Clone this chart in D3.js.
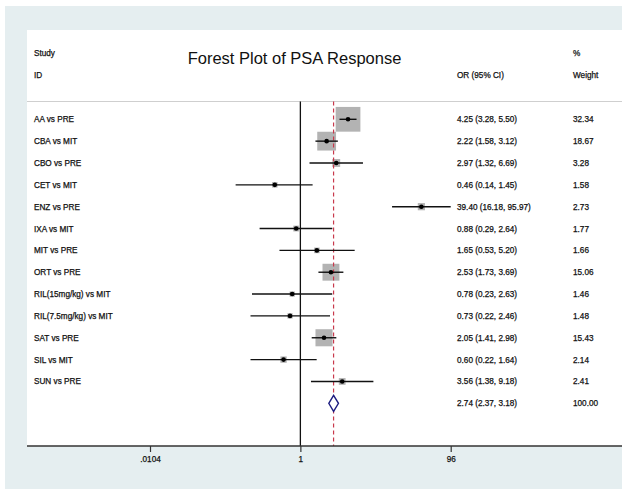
<!DOCTYPE html>
<html><head><meta charset="utf-8">
<script src="https://cdn.jsdelivr.net/npm/d3@7"></script>
<style>
html,body{margin:0;padding:0;background:#fff;}
svg{display:block;font-family:"Liberation Sans",Arial,Helvetica,sans-serif;}
</style></head>
<body>
<svg id="c" width="622" height="489"></svg>
<script>
const studies = ["AA vs PRE","CBA vs MIT","CBO vs PRE","CET vs MIT","ENZ vs PRE","IXA vs MIT","MIT vs PRE","ORT vs PRE","RIL(15mg/kg) vs MIT","RIL(7.5mg/kg) vs MIT","SAT vs PRE","SIL vs MIT","SUN vs PRE"];
const orValues = [4.25,2.22,2.97,0.46,39.40,0.88,1.65,2.53,0.78,0.73,2.05,0.60,3.56];
const lowerCI = [3.28,1.58,1.32,0.14,16.18,0.29,0.53,1.73,0.23,0.22,1.41,0.22,1.38];
const upperCI = [5.50,3.12,6.69,1.45,95.97,2.64,5.20,3.69,2.63,2.46,2.98,1.64,9.18];
const weights = ["32.34","18.67","3.28","1.58","2.73","1.77","1.66","15.06","1.46","1.48","15.43","2.14","2.41"];
const pooled = {or:2.74, lo:2.37, hi:3.18, weight:"100.00"};
const tickValues = [0.0104, 1, 96];
const tickLabels = [".0104", "1", "96"];

const svg = d3.select("#c");
svg.append("rect").attr("x",5).attr("y",6).attr("width",617).attr("height",483).attr("fill","#e5eef0");
svg.append("rect").attr("x",27).attr("y",30).attr("width",595).attr("height",416).attr("fill","#fff");

const x = d3.scaleLog().domain([0.0104, 96]).range([150, 450.7]);
const y = d3.scalePoint().domain(d3.range(studies.length + 1)).range([119.3, 403.3]);
const box = d3.scaleSqrt().domain([0, 100]).range([0, 43.5]);
const fmt = d3.format(".2f");
const txt = "#111";
function label(xp, yp, s){
  return svg.append("text").attr("x",xp).attr("y",yp).attr("font-size",8.2).attr("fill",txt)
    .attr("stroke",txt).attr("stroke-width",0.25).text(s);
}

label(34,56,"Study");
label(34,78,"ID");
svg.append("text").attr("x",294.5).attr("y",64).attr("text-anchor","middle").attr("font-size",16.5).attr("fill","#111").text("Forest Plot of PSA Response");
label(457,78,"OR (95% CI)");
label(573,56,"%");
label(573,78,"Weight");
svg.append("line").attr("x1",27).attr("x2",622).attr("y1",101.5).attr("y2",101.5).attr("stroke","#cfcfcf").attr("stroke-width",1);

svg.append("line").attr("x1",x(1)).attr("x2",x(1)).attr("y1",101.5).attr("y2",446).attr("stroke","#111").attr("stroke-width",1.3);

const g = svg.append("g");
studies.forEach((s,i)=>{
  const w = box(+weights[i]);
  g.append("rect").attr("x",x(orValues[i])-w/2).attr("y",y(i)-w/2).attr("width",w).attr("height",w).attr("fill","#b3b3b3");
});
svg.append("line").attr("x1",x(pooled.or)).attr("x2",x(pooled.or)).attr("y1",101.5).attr("y2",446)
  .attr("stroke","#c8394c").attr("stroke-width",1.2).attr("stroke-dasharray","4,3");
studies.forEach((s,i)=>{
  svg.append("line").attr("x1",x(lowerCI[i])).attr("x2",x(upperCI[i])).attr("y1",y(i)).attr("y2",y(i)).attr("stroke","#111").attr("stroke-width",1.4);
  svg.append("circle").attr("cx",x(orValues[i])).attr("cy",y(i)).attr("r",2.3).attr("fill","#000");
  label(34,y(i)+3,s);
  label(457,y(i)+3,`${fmt(orValues[i])} (${fmt(lowerCI[i])}, ${fmt(upperCI[i])})`);
  label(573,y(i)+3,weights[i]);
});
const py = y(studies.length);
svg.append("path").attr("d",`M${x(pooled.lo)},${py} L${x(pooled.or)},${py-8} L${x(pooled.hi)},${py} L${x(pooled.or)},${py+8} Z`)
  .attr("fill","#fff").attr("stroke","#1c1c80").attr("stroke-width",1.4);
label(457,py+3,`${fmt(pooled.or)} (${fmt(pooled.lo)}, ${fmt(pooled.hi)})`);
label(573,py+3,pooled.weight);

const axis = d3.axisBottom(x).tickValues(tickValues).tickFormat((d,i)=>tickLabels[i]).tickSize(6).tickPadding(4);
const ag = svg.append("g").attr("transform","translate(0,446)").call(axis);
ag.select(".domain").remove();
ag.append("line").attr("x1",27).attr("x2",622).attr("y1",0).attr("y2",0).attr("stroke","#333").attr("stroke-width",1.4);
ag.selectAll(".tick line").attr("stroke","#333").attr("stroke-width",1.2);
ag.selectAll(".tick text").attr("font-size",8.2).attr("fill",txt).attr("stroke",txt).attr("stroke-width",0.25).attr("font-family","Liberation Sans,Arial,sans-serif");
</script>
</body></html>
